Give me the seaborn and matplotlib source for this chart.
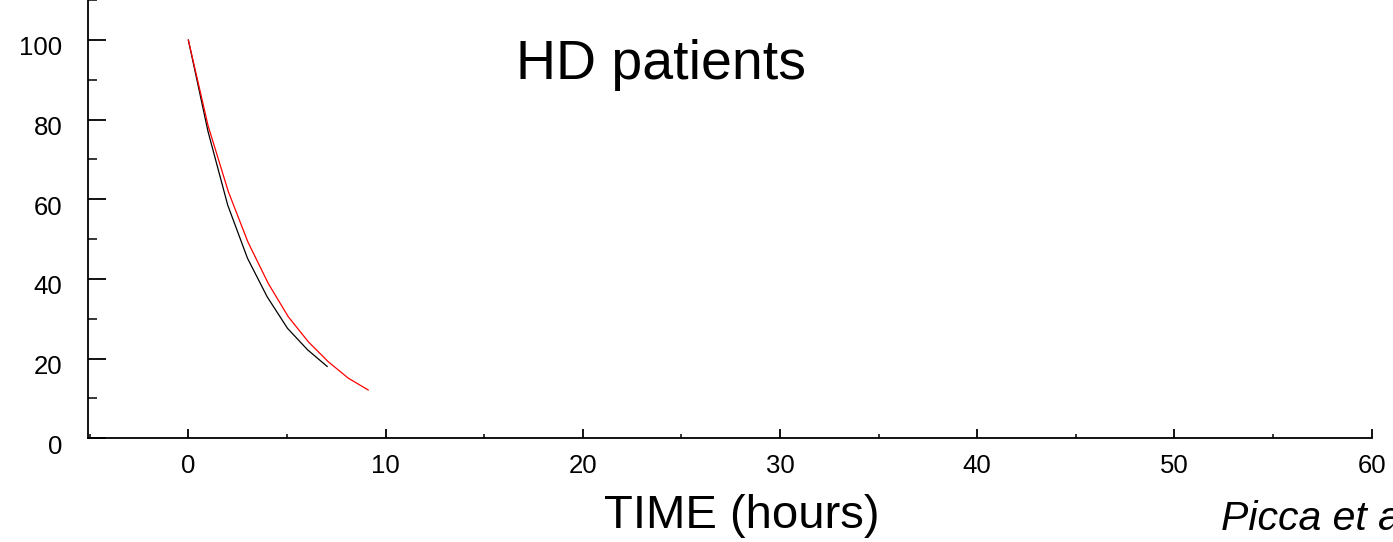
import numpy as np
import pandas as pd
import matplotlib
matplotlib.use("Agg")
import matplotlib.pyplot as plt
import matplotlib.transforms as mtransforms
from matplotlib.ticker import FixedLocator, MultipleLocator
import seaborn as sns

# ---- data ----
black_time = [0, 1.0, 2.0, 3.0, 4.0, 5.03, 6.05, 7.05]
black_value = [100, 77.0, 58.5, 45.2, 35.5, 27.6, 22.2, 18.0]
red_time = [0, 1.0, 2.03, 3.02, 4.05, 5.07, 6.09, 7.1, 8.11, 9.13]
red_value = [100, 78.5, 61.9, 49.3, 38.9, 30.5, 24.2, 19.2, 15.1, 12.1]
x_ticks = [0, 10, 20, 30, 40, 50, 60]
y_ticks = [0, 20, 40, 60, 80, 100]
title_text = "HD patients"
xlabel_text = "TIME (hours)"
credit_text = "Picca et al."

df = pd.concat([
    pd.DataFrame({"time": black_time, "value": black_value, "series": "black"}),
    pd.DataFrame({"time": red_time, "value": red_value, "series": "red"}),
], ignore_index=True)

sns.set_theme(style="ticks")
plt.rcParams["font.family"] = ["Liberation Sans", "DejaVu Sans"]

fig = plt.figure(figsize=(13.93, 5.42), dpi=100)
ax = fig.add_axes([88.3 / 1393, (542 - 438.3) / 542, (1371.7 - 88.3) / 1393, 438.3 / 542])

sns.lineplot(data=df, x="time", y="value", hue="series",
             palette={"black": "black", "red": "red"},
             estimator=None, sort=False, linewidth=0.9, legend=False, ax=ax)

ax.set_xlim(-5.07, 60.0)
ax.set_ylim(0, 110)
ax.xaxis.set_major_locator(FixedLocator(x_ticks))
ax.xaxis.set_minor_locator(MultipleLocator(5))
ax.yaxis.set_major_locator(FixedLocator(y_ticks))
ax.yaxis.set_minor_locator(MultipleLocator(10))
ax.set_xticklabels([str(v) for v in x_ticks])
ax.set_yticklabels([str(v) for v in y_ticks])

for side in ["top", "right"]:
    ax.spines[side].set_visible(False)
for side in ["left", "bottom"]:
    ax.spines[side].set_linewidth(1.3)
    ax.spines[side].set_color("black")

ax.tick_params(axis="y", which="major", direction="in", length=13, width=1.3,
               pad=18.7, labelsize=18.5, colors="black")
ax.tick_params(axis="y", which="minor", direction="in", length=6.5, width=1.3)
ax.tick_params(axis="x", which="major", direction="in", length=6.5, width=1.3,
               pad=11.5, labelsize=18.5, colors="black")
ax.tick_params(axis="x", which="minor", direction="in", length=3, width=1.3)

# y tick labels sit slightly below their ticks in the reference
offset = mtransforms.ScaledTranslation(0, -6 / 100, fig.dpi_scale_trans)
for tick in ax.yaxis.get_major_ticks():
    tick.label1.set_transform(tick.label1.get_transform() + offset)

ax.set_ylabel("")
ax.set_xlabel(xlabel_text, fontsize=34, va="baseline", color="black")
ax.xaxis.set_label_coords((742 - 88.3) / 1283.4, (438.3 - 528) / 438.3)

ax.text((661 - 88.3) / 1283.4, (438.3 - 79.3) / 438.3, title_text,
        transform=ax.transAxes, ha="center", va="baseline", fontsize=40, color="black")
ax.text((1221 - 88.3) / 1283.4, (438.3 - 530) / 438.3, credit_text,
        transform=ax.transAxes, ha="left", va="baseline", fontsize=29.5,
        style="italic", color="black", clip_on=False)

fig.savefig("out.png", dpi=100)
